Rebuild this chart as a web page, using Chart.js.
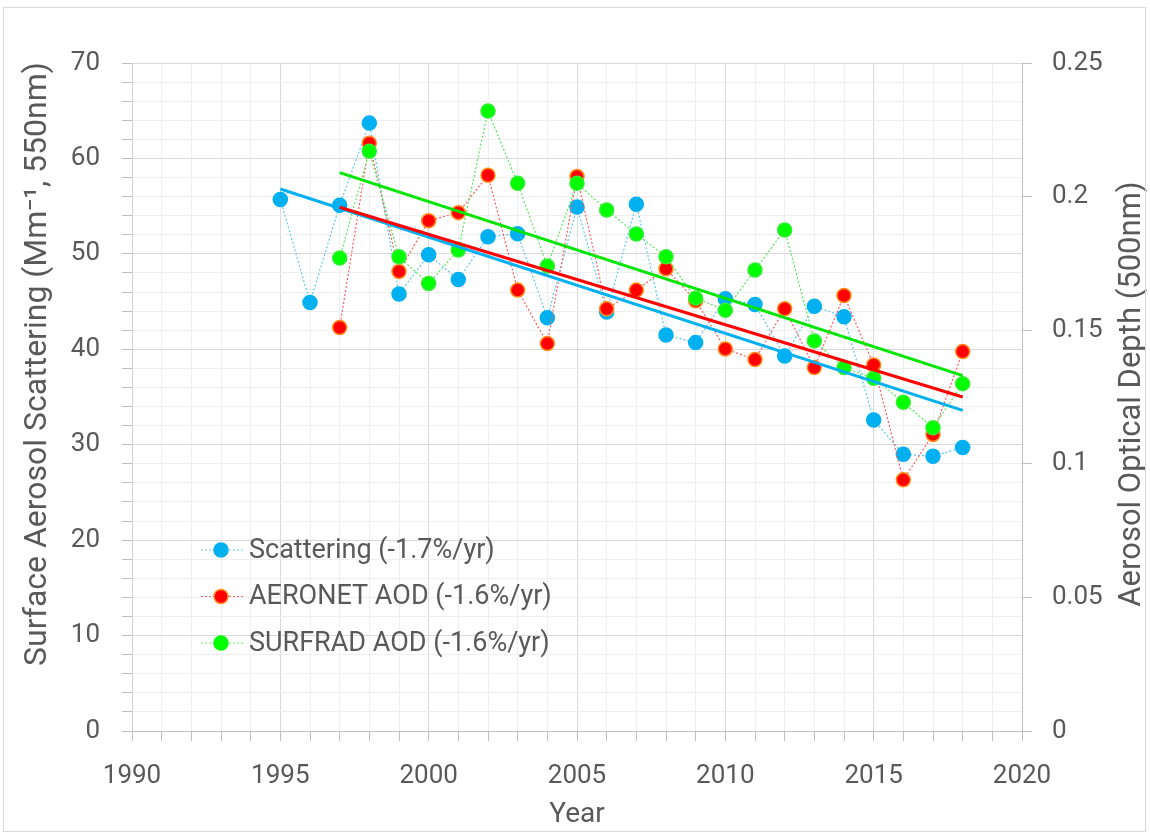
<!DOCTYPE html>
<html>
<head>
<meta charset="utf-8">
<script src="https://cdn.jsdelivr.net/npm/chart.js@4.4.1/dist/chart.umd.min.js"></script>
<style>
  body { margin: 0; background: white; }
  .wrap { position: relative; width: 1150px; height: 837px; }
  .frame { position: absolute; left: 3px; top: 7px; width: 1143px; height: 825px;
    border: 1px solid #d9d9d9; box-sizing: border-box; pointer-events: none; }
</style>
</head>
<body>
<div class="wrap">
  <canvas id="c" width="1150" height="837"></canvas>
  <div class="frame"></div>
</div>
<script>
// Surface aerosol scattering vs. AOD trends, 1995-2018

const scatYears = [1995, 1996, 1997, 1998, 1999, 2000, 2001, 2002, 2003, 2004, 2005, 2006,
                   2007, 2008, 2009, 2010, 2011, 2012, 2013, 2014, 2015, 2016, 2017, 2018];
const scattering = [55.7, 44.9, 55.1, 63.7, 45.8, 49.9, 47.3, 51.8, 52.1, 43.3, 54.9, 43.9,
                    55.2, 41.5, 40.7, 45.3, 44.7, 39.3, 44.5, 43.4, 32.6, 29.0, 28.8, 29.7];

const aodYears = [1997, 1998, 1999, 2000, 2001, 2002, 2003, 2004, 2005, 2006, 2007,
                  2008, 2009, 2010, 2011, 2012, 2013, 2014, 2015, 2016, 2017, 2018];
const aeronet = [0.151, 0.220, 0.172, 0.191, 0.194, 0.208, 0.165, 0.145, 0.2075, 0.158, 0.165,
                 0.173, 0.161, 0.143, 0.139, 0.158, 0.136, 0.163, 0.137, 0.094, 0.111, 0.142];
const surfrad = [0.177, 0.217, 0.1775, 0.1675, 0.180, 0.232, 0.205, 0.174, 0.205, 0.195, 0.186,
                 0.1775, 0.162, 0.1575, 0.1725, 0.1875, 0.146, 0.136, 0.132, 0.123, 0.1135, 0.130];

// linear trend end points
const scatTrendYears = [1995, 2018];
const scatTrend = [56.8, 33.6];
const aodTrendYears = [1997, 2018];
const aeronetTrend = [0.196, 0.125];
const surfradTrend = [0.209, 0.133];

const legendLabels = ['Scattering (-1.7%/yr)', 'AERONET AOD (-1.6%/yr)', 'SURFRAD AOD (-1.6%/yr)'];

const BLUE = '#00b0f0', RED = '#ff0000', GREEN = '#00ff00';
const TXT = '#595959';
const FONT = 'Roboto, "Open Sans", sans-serif';

function pts(xs, ys) {
    return xs.map(function (x, i) { return { x: x, y: ys[i] }; });
}

function series(label, xs, ys, axis, fill, ring, dash) {
    return {
        label: label, data: pts(xs, ys), yAxisID: axis,
        borderColor: dash, borderWidth: 1.2, borderDash: [2, 2],
        pointRadius: 7, pointHoverRadius: 7,
        pointBackgroundColor: fill, pointBorderColor: ring, pointBorderWidth: 1.5
    };
}

function trend(xs, ys, axis, color) {
    return {
        label: 'trend', data: pts(xs, ys), yAxisID: axis,
        borderColor: color, borderWidth: 3, pointRadius: 0
    };
}

// axis titles and the in-plot legend
const decor = {
    id: 'decor',
    afterDraw: function (chart) {
        const c = chart.ctx;
        c.save();
        c.fillStyle = TXT;
        c.textAlign = 'center';
        c.textBaseline = 'middle';
        c.font = '28px ' + FONT;
        c.fillText('Year', 577, 815);

        c.save();
        c.font = '32px ' + FONT;
        c.translate(38, 364);
        c.rotate(-Math.PI / 2);
        c.fillText('Surface Aerosol Scattering (Mm\u207B\u00B9, 550nm)', 0, 0);
        c.restore();

        c.save();
        c.font = '31px ' + FONT;
        c.translate(1132, 394);
        c.rotate(-Math.PI / 2);
        c.fillText('Aerosol Optical Depth (500nm)', 0, 0);
        c.restore();

        const cols = [[BLUE, BLUE, '#6cc9f0'], [RED, '#ff8c1a', '#ff6060'], [GREEN, GREEN, '#66ee66']];
        c.font = '27px ' + FONT;
        c.textAlign = 'left';
        legendLabels.forEach(function (t, i) {
            const y = 550 + i * 46.5;
            c.strokeStyle = cols[i][2];
            c.lineWidth = 1.2;
            c.setLineDash([2, 2]);
            c.beginPath();
            c.moveTo(201, y);
            c.lineTo(243, y);
            c.stroke();
            c.setLineDash([]);
            c.beginPath();
            c.arc(221, y, 7, 0, Math.PI * 2);
            c.fillStyle = cols[i][0];
            c.fill();
            c.strokeStyle = cols[i][1];
            c.lineWidth = 1.5;
            c.stroke();
            c.fillStyle = TXT;
            c.fillText(t, 249, y + 1);
        });
        c.restore();
    }
};

new Chart(document.getElementById('c').getContext('2d'), {
    type: 'line',
    data: {
        datasets: [
            trend(aodTrendYears, surfradTrend, 'y1', '#00e600'),
            trend(aodTrendYears, aeronetTrend, 'y1', RED),
            trend(scatTrendYears, scatTrend, 'y', BLUE),
            series(legendLabels[2], aodYears, surfrad, 'y1', GREEN, '#33ee33', '#55e655'),
            series(legendLabels[1], aodYears, aeronet, 'y1', RED, '#ff8c1a', '#ff5c5c'),
            series(legendLabels[0], scatYears, scattering, 'y', BLUE, BLUE, '#5cc6f0')
        ]
    },
    options: {
        responsive: false,
        animation: false,
        layout: { padding: { top: 63, left: 0, right: 0, bottom: 0 } },
        plugins: { legend: { display: false }, tooltip: { enabled: false } },
        scales: {
            x: {
                type: 'linear', min: 1990, max: 2020,
                afterFit: function (s) { s.height = 106; },
                border: { color: '#bfbfbf' },
                grid: {
                    color: function (ctx) { return ctx.tick && ctx.tick.value % 5 === 0 ? '#d9d9d9' : '#efefef'; },
                    tickColor: '#bfbfbf', tickLength: 10
                },
                ticks: {
                    stepSize: 1, autoSkip: false, maxRotation: 0, padding: 20,
                    color: TXT, font: { family: FONT, size: 26 },
                    callback: function (v) { return v % 5 === 0 ? String(v) : ''; }
                }
            },
            y: {
                position: 'left', min: 0, max: 70,
                afterFit: function (s) { s.width = 132; },
                border: { color: '#d0d0d0' },
                grid: {
                    color: function (ctx) { return ctx.tick && ctx.tick.value % 10 === 0 ? '#d9d9d9' : '#efefef'; },
                    tickColor: '#bfbfbf', tickLength: 10
                },
                ticks: {
                    stepSize: 2, autoSkip: false, padding: 22,
                    color: TXT, font: { family: FONT, size: 26 },
                    callback: function (v) { return v % 10 === 0 ? String(v) : ''; }
                }
            },
            y1: {
                position: 'right', min: 0, max: 0.25,
                afterFit: function (s) { s.width = 128; },
                border: { color: '#bfbfbf' },
                grid: { drawOnChartArea: false, tickColor: '#bfbfbf', tickLength: 10 },
                ticks: {
                    stepSize: 0.05, padding: 20,
                    color: TXT, font: { family: FONT, size: 26 },
                    callback: function (v) { return String(Math.round(v * 100) / 100); }
                }
            }
        }
    },
    plugins: [decor]
});
</script>
</body>
</html>
